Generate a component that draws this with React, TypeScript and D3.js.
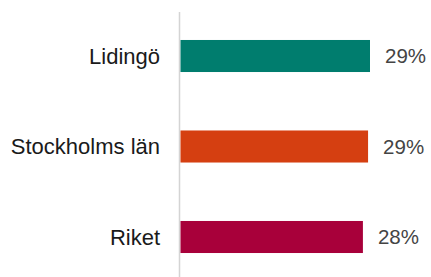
import React from 'react';
import * as d3 from 'd3';

// regions and their shares (percent)
const regions = ['Lidingö', 'Stockholms län', 'Riket'];
const shares = [29.4, 29.1, 28.3];
const colors = ['#007d6e', '#d53f11', '#a8003a'];

const W = 431;
const H = 277;

export default function App() {
  const rows = regions.map((r, i) => ({ region: r, value: shares[i], color: colors[i] }));

  const x = d3.scaleLinear().domain([0, 29.4]).range([180.5, 370]);
  const y = d3.scaleBand()
    .domain(regions)
    .range([10.75, 282.25])
    .paddingInner(0.646)
    .paddingOuter(0.323);

  return (
    <svg width={W} height={H} style={{ position: 'absolute', left: 0, top: 0, fontFamily: '"Liberation Sans", Arial, sans-serif' }}>
      <line x1={179.5} x2={179.5} y1={12} y2={H} stroke="#d4d4d4" strokeWidth={1.5} />
      {rows.map(d => {
        const cy = (y(d.region) as number) + y.bandwidth() / 2;
        return (
          <g key={d.region}>
            <rect x={x(0)} y={y(d.region)} width={x(d.value) - x(0)} height={y.bandwidth()} fill={d.color} />
            <text x={160} y={cy} dy="0.35em" textAnchor="end" fontSize={22} fill="#1a1a1a">{d.region}</text>
            <text x={x(d.value) + 15} y={cy} dy="0.35em" fontSize={20.5} fill="#444">{Math.round(d.value)}%</text>
          </g>
        );
      })}
    </svg>
  );
}
